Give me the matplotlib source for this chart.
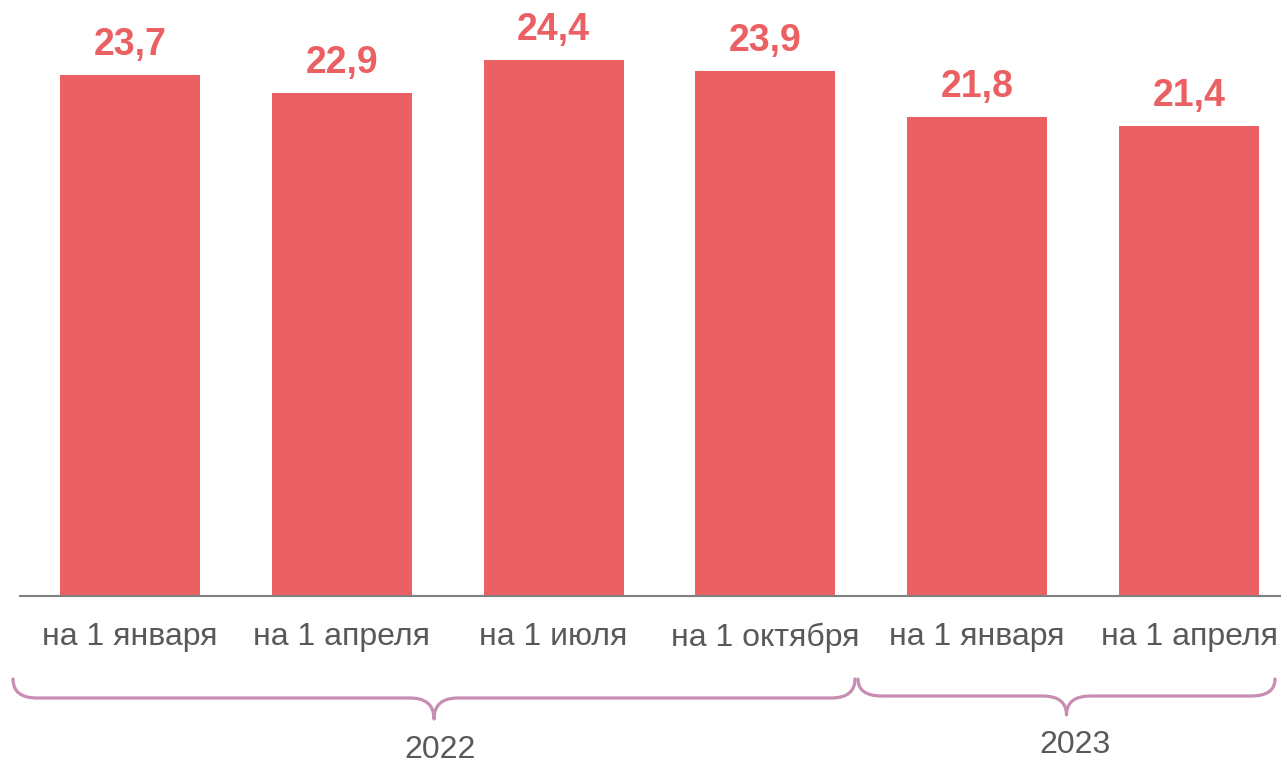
import matplotlib.pyplot as plt
import numpy as np
from matplotlib.path import Path
from matplotlib.patches import PathPatch

plt.rcParams['font.family'] = ['Liberation Sans', 'DejaVu Sans']

# Данные
periods = ["на 1 января", "на 1 апреля", "на 1 июля", "на 1 октября", "на 1 января", "на 1 апреля"]
values = [23.7, 22.9, 24.4, 23.9, 21.8, 21.4]
value_labels = ["23,7", "22,9", "24,4", "23,9", "21,8", "21,4"]
years = ["2022", "2023"]

BAR_COLOR = "#EB6062"
TEXT_GRAY = "#595959"
BRACE_COLOR = "#C78DB2"

W, H = 1281, 764
fig = plt.figure(figsize=(W / 100, H / 100), dpi=100)

# Основные оси: ось X на y=596 px
ax = fig.add_axes([20 / W, (H - 596) / H, 1261 / W, 596 / H])
x = np.arange(len(values))
ax.bar(x, values, width=0.661, color=BAR_COLOR)
ax.set_xlim(-0.519, 5.434)
ax.set_ylim(0, 27.13)

for xi, v, lab in zip(x, values, value_labels):
    ax.text(xi, v + 0.91, lab, ha='center', va='baseline',
            fontsize=27, fontweight='bold', color=BAR_COLOR)

ax.set_xticks(x)
ax.set_xticklabels(periods, fontsize=23, color=TEXT_GRAY)
ax.tick_params(axis='x', length=0, pad=19)
ax.set_yticks([])
for s in ['top', 'right', 'left']:
    ax.spines[s].set_visible(False)
ax.spines['bottom'].set_color('#808080')
ax.spines['bottom'].set_linewidth(1.5)

# Оверлей для фигурных скобок (пиксельные координаты)
ov = fig.add_axes([0, 0, 1, 1], facecolor='none')
ov.set_xlim(0, W)
ov.set_ylim(H, 0)
ov.axis('off')


def brace(x0, x1, ytop, yh, ytip, r=24):
    xm = (x0 + x1) / 2
    verts = [
        (x0, ytop), (x0, yh), (x0 + r, yh),
        (xm - r, yh),
        (xm, yh), (xm, ytip),
        (xm, yh), (xm + r, yh),
        (x1 - r, yh),
        (x1, yh), (x1, ytop),
    ]
    codes = [Path.MOVETO, Path.CURVE3, Path.CURVE3,
             Path.LINETO,
             Path.CURVE3, Path.CURVE3,
             Path.CURVE3, Path.CURVE3,
             Path.LINETO,
             Path.CURVE3, Path.CURVE3]
    ov.add_patch(PathPatch(Path(verts, codes), fill=False, edgecolor=BRACE_COLOR,
                           linewidth=2.3, capstyle='round', joinstyle='round'))


brace(13, 855, 679, 698, 719)
brace(858, 1275, 679, 696, 715)

ov.text(440, 750, years[0], ha='center', va='center', fontsize=23, color=TEXT_GRAY)
ov.text(1075, 745, years[1], ha='center', va='center', fontsize=23, color=TEXT_GRAY)

fig.savefig("out.png", dpi=100)
